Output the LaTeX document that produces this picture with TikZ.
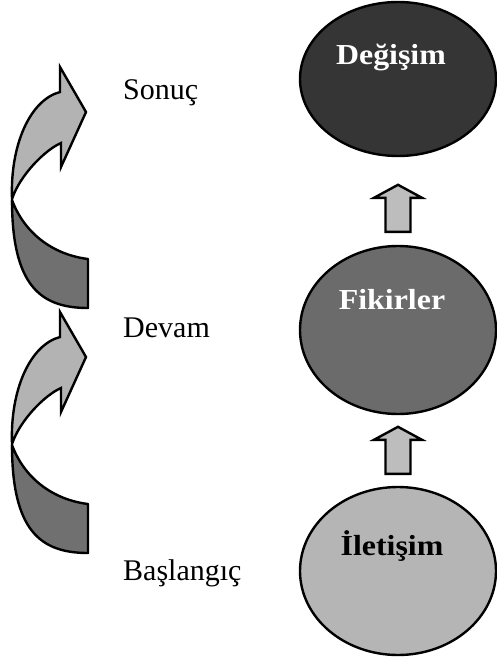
\documentclass[tikz,border=0pt]{standalone}
\usepackage{fontspec}
\setmainfont{Liberation Serif}
\newfontfamily\ovalfont[FakeStretch=1.1]{Liberation Serif}
\usetikzlibrary{shapes.geometric,calc}

\definecolor{ovaldark}{HTML}{353535}
\definecolor{ovalmid}{HTML}{6B6B6B}
\definecolor{ovallight}{HTML}{B5B5B5}
\definecolor{blockfill}{HTML}{BDBDBD}
\definecolor{ribbonlight}{HTML}{B3B3B3}
\definecolor{ribbondark}{HTML}{707070}

\begin{document}
\begin{tikzpicture}[x=1pt,y=-1pt,
  outline/.style={draw=black,line width=2.4pt},
  oval/.style={ellipse,outline,minimum width=196pt,inner sep=0pt},
  ovaltext/.style={font=\ovalfont\bfseries\fontsize{29}{34}\selectfont,anchor=base,inner sep=0pt},
  stagetext/.style={font=\fontsize{30}{36}\selectfont,anchor=base west,inner sep=0pt},
  uparrow/.pic={
    \filldraw[outline,fill=blockfill]
      (-12.5,0) -- (-12.5,-34) -- (-24,-34) -- (0,-47) -- (24,-34)
      -- (12.5,-34) -- (12.5,0) -- cycle;
  },
  ribbon/.pic={
    % lower, darker half of the curved band
    \filldraw[outline,fill=ribbondark,line join=round]
      (12,200) .. controls (12,285) and (40,308) .. (88,308) -- (88,259)
      .. controls (55,255) and (25,235) .. (12,200) -- cycle;
    % upper, lighter half ending in the arrow head
    \filldraw[outline,fill=ribbonlight]
      (60,92) -- (60,67) -- (86,112) -- (61,167) -- (61,143)
      .. controls (45,150) and (20,175) .. (12,199)
      .. controls (10,145) and (30,100) .. (60,92) -- cycle;
  }
]
\useasboundingbox (0,0) rectangle (497,663);

% stages on the right
\node[oval,fill=ovaldark,minimum height=154pt] (dg) at (398,79) {};
\node[oval,fill=ovalmid,minimum height=168pt] (fk) at (398,330) {};
\node[oval,fill=ovallight,minimum height=168pt] (il) at (398,571) {};

\node[ovaltext,text=white] (dgt) at (391,65) {Değişim};
\node[ovaltext,text=white] (fkt) at (392,309) {Fikirler};
\node[ovaltext,text=black] (ilt) at (392,555) {İletişim};

% block arrows between the stages
\pic at ($(fk.north)+(0,-13)$) {uparrow};
\pic at ($(il.north)+(0,-12)$) {uparrow};

% curved band arrows on the left
\pic at (0,0) {ribbon};
\pic at (0,245) {ribbon};

% stage names
\node[stagetext] (sn) at (123,100) {Sonuç};
\node[stagetext] (dv) at (123,337) {Devam};
\node[stagetext] (bs) at (123,580) {Başlangıç};
\end{tikzpicture}
\end{document}
